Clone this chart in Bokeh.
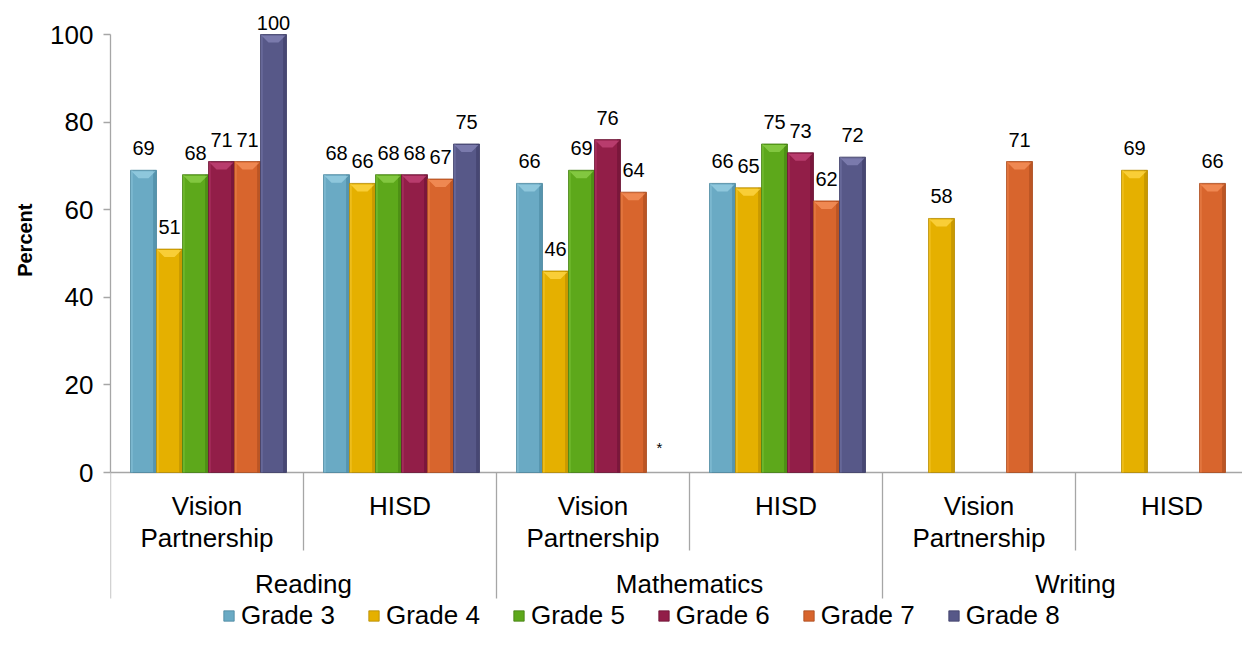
from bokeh.plotting import figure
from bokeh.models import ColumnDataSource, Range1d, FixedTicker, Legend, LegendItem, Title
from bokeh.embed import file_html
from bokeh.resources import INLINE
from bokeh.core.properties import value

# ---------------- data ----------------
subjects = ["Reading", "Mathematics", "Writing"]
schools = ["Vision Partnership", "HISD"]
grades = ["Grade 3", "Grade 4", "Grade 5", "Grade 6", "Grade 7", "Grade 8"]
# one value per (subject, school) group: Reading-VP, Reading-HISD, Math-VP, Math-HISD, Writing-VP, Writing-HISD
grade3 = [69, 68, 66, 66, None, None]
grade4 = [51, 66, 46, 65, 58, 69]
grade5 = [68, 68, 69, 75, None, None]
grade6 = [71, 68, 76, 73, None, None]
grade7 = [71, 67, 64, 62, 71, 66]
grade8 = [100, 75, None, 72, None, None]
grade8_notes = [None, None, "*", None, None, None]
y_ticks = [0, 20, 40, 60, 80, 100]
y_title = "Percent"

series = [grade3, grade4, grade5, grade6, grade7, grade8]
notes = [[None] * 6] * 5 + [grade8_notes]

# ---------------- style ----------------
colors = ["#6AAAC4", "#E5B000", "#5DA81B", "#921E48", "#D8652D", "#575888"]
darks = ["#4A869E", "#B58A00", "#447F12", "#6A1333", "#A94B1E", "#3C3C66"]
lights = ["#9BD0E4", "#FFD84A", "#8FD24E", "#C4477A", "#F7945F", "#8586B8"]
FONT = "Liberation Sans"
AXIS_GREY = "#A6A6A6"

W, H = 1242, 631
LEFT = 110
FRAME_W, FRAME_H = W - LEFT, H
GROUP_PX = 193.0
Y_PX = 4.38  # pixels per percent
ZERO_PX = 472.0  # screen y of the zero line

x_end = FRAME_W / GROUP_PX
y_top = ZERO_PX / Y_PX
y_bot = -(FRAME_H - ZERO_PX) / Y_PX
xpx = 1.0 / GROUP_PX
ypx = 1.0 / Y_PX

p = figure(width=W, height=H, output_backend="svg", toolbar_location=None,
           x_range=Range1d(0, x_end), y_range=Range1d(y_bot, y_top),
           min_border_left=LEFT, min_border_right=0, min_border_top=0, min_border_bottom=0)
p.outline_line_color = None
p.xgrid.visible = False
p.ygrid.visible = False
p.xaxis.visible = False
p.background_fill_color = "white"
p.border_fill_color = "white"

ya = p.yaxis[0]
ya.bounds = (0, 100)
ya.ticker = FixedTicker(ticks=y_ticks)
ya.minor_tick_line_color = None
ya.major_tick_out = 7
ya.major_tick_in = 0
ya.axis_line_color = AXIS_GREY
ya.axis_line_width = 1.3
ya.major_tick_line_color = AXIS_GREY
ya.major_tick_line_width = 1.3
ya.major_label_text_font = FONT
ya.major_label_text_font_size = "26px"
ya.major_label_text_color = "black"
ya.major_label_standoff = 10

# y-axis title placed above the axis centre, as in the reference
p.add_layout(Title(text=y_title, align="right", offset=203, vertical_align="middle",
                   standoff=22, text_font=FONT, text_font_style="bold",
                   text_font_size="20px", text_color="black"), "left")

n_groups = len(subjects) * len(schools)

# baseline at 0
p.segment(x0=[0], y0=[0], x1=[x_end], y1=[0], line_color=AXIS_GREY, line_width=1.3)

# separators
short_bottom = -78 * ypx
long_bottom = -126 * ypx
sx0, sy1 = [], []
for g in range(n_groups):
    sx0.append(g)
    sy1.append(long_bottom if g % len(schools) == 0 else short_bottom)
p.segment(x0=sx0, y0=[0] * len(sx0), x1=sx0, y1=sy1, line_color=AXIS_GREY, line_width=1.3)

# school labels
lab_x, lab_y, lab_t = [], [], []
for g in range(n_groups):
    name = schools[g % len(schools)]
    words = name.split(" ")
    for k, w in enumerate(words):
        lab_x.append(g + 0.5)
        lab_y.append(-33 * ypx - k * 32 * ypx)
        lab_t.append(w)
p.text(x=lab_x, y=lab_y, text=lab_t, text_align="center", text_baseline="middle",
       text_font=value(FONT), text_font_size="26px", text_color="black")

# subject labels
subj_x = [s * len(schools) + len(schools) / 2 for s in range(len(subjects))]
p.text(x=subj_x, y=[-111 * ypx] * len(subjects), text=subjects, text_align="center",
       text_baseline="middle", text_font=value(FONT), text_font_size="26px", text_color="black")

# bars
bar_w = 26.0 * xpx
shift = 1.5 * xpx
label_cap = y_top - 22 * ypx
legend_items = []
for i, (gname, vals) in enumerate(zip(grades, series)):
    xs, tops, txt, ly = [], [], [], []
    nx, nt = [], []
    for g, v in enumerate(vals):
        xc = g + 0.5 + (i - 2.5) * bar_w + shift
        if v is None:
            if notes[i][g]:
                nx.append(xc)
                nt.append(notes[i][g])
            continue
        xs.append(xc)
        tops.append(v)
        txt.append(str(v))
        ly.append(min(v + 22 * ypx, label_cap))
    src = ColumnDataSource(dict(x=xs, top=tops, text=txt, ly=ly))
    r = p.vbar(x="x", top="top", bottom=0, width=bar_w, source=src,
               fill_color=colors[i], line_color=darks[i], line_width=0.8)
    legend_items.append(LegendItem(label=gname, renderers=[r]))
    # bevel: dark right edge, light left edge, light top facet
    p.vbar(x=[x + bar_w / 2 - 1.8 * xpx for x in xs], top=tops, bottom=0, width=3.2 * xpx,
           fill_color=darks[i], fill_alpha=0.6, line_color=None)
    p.vbar(x=[x - bar_w / 2 + 1.3 * xpx for x in xs], top=tops, bottom=0, width=2.0 * xpx,
           fill_color=lights[i], fill_alpha=0.35, line_color=None)
    pxs, pys = [], []
    for x, t in zip(xs, tops):
        l, rr = x - bar_w / 2 + 1 * xpx, x + bar_w / 2 - 1 * xpx
        pxs.append([l, rr, x + 5 * xpx, x - 5 * xpx])
        pys.append([t - 1 * ypx, t - 1 * ypx, t - 8 * ypx, t - 8 * ypx])
    p.patches(xs=pxs, ys=pys, fill_color=lights[i], fill_alpha=0.75, line_color=None)
    # value labels
    p.text(x="x", y="ly", text="text", source=src, text_align="center",
           text_baseline="middle", text_font=value(FONT), text_font_size="20px", text_color="black")
    if nx:
        p.text(x=nx, y=[0] * len(nx), text=nt, y_offset=-25, text_align="center",
               text_baseline="middle", text_font=value(FONT), text_font_size="15px", text_color="black")

legend = Legend(items=legend_items, orientation="horizontal", location=(112, 0),
                glyph_width=13, glyph_height=13, label_standoff=6, spacing=32,
                padding=0, margin=0, border_line_color=None, background_fill_alpha=0,
                label_text_font=FONT, label_text_font_size="26px", label_text_color="black")
p.add_layout(legend, "center")

open("out.html", "w").write(file_html(p, INLINE))
